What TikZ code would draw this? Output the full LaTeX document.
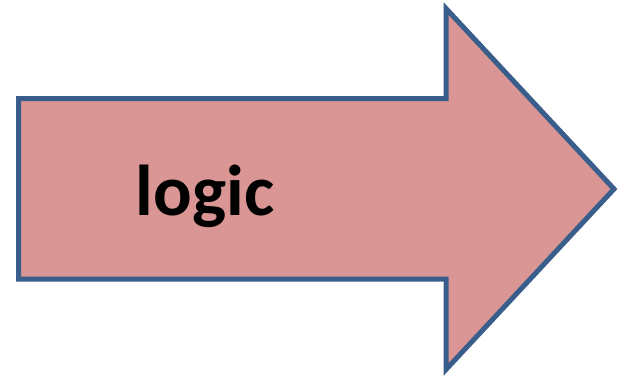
\documentclass[tikz,border=0pt]{standalone}
\usepackage{fontspec}
\setmainfont{Carlito}
\definecolor{arrowfill}{HTML}{D99694}
\definecolor{arrowline}{HTML}{3A5E8C}
\tikzset{
  blockarrow/.style={fill=arrowfill, draw=arrowline, line width=5pt, line join=miter, miter limit=10},
  label/.style={font=\fontsize{72}{80}\selectfont\bfseries, text=black, inner sep=0pt}
}
\begin{document}
\begin{tikzpicture}[x=1pt,y=-1pt]
\useasboundingbox (0,0) rectangle (619,376);
\coordinate (s1) at (18.5,98.5);
\coordinate (s2) at (446,98.5);
\coordinate (h1) at (446,8.5);
\coordinate (tip) at (614,189);
\coordinate (h2) at (446,369.5);
\coordinate (s3) at (446,279);
\coordinate (s4) at (18.5,279);
\draw[blockarrow] (s1) -- (s2) -- (h1) -- (tip) -- (h2) -- (s3) -- (s4) -- cycle;
\node[label, anchor=base] (t) at (205,215) {logic};
\end{tikzpicture}
\end{document}
